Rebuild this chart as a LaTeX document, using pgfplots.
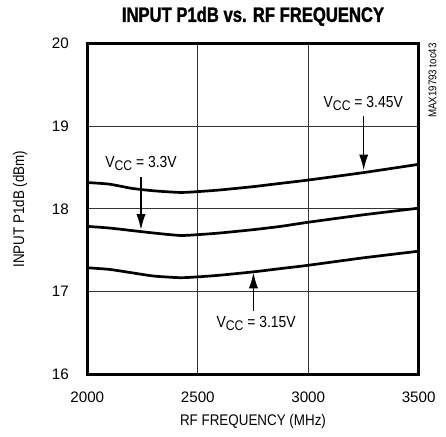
\documentclass[border=0pt]{standalone}
\usepackage{fontspec}
\setmainfont{Liberation Sans}
\newfontfamily\titlefont{Liberation Sans Bold}[FakeBold=1.6]
\usepackage{graphicx}
\usepackage{pgfplots}
\pgfplotsset{compat=1.18}
\usetikzlibrary{arrows.meta}
\newcommand{\nar}[1]{\scalebox{0.87}[1]{#1}}
\newcommand{\vcc}{V\raisebox{-0.35ex}{\fontsize{7bp}{8bp}\selectfont CC}}
\begin{document}
\begin{tikzpicture}
\begin{axis}[
  at={(0,0)}, anchor=south west,
  scale only axis, width=165.7bp, height=165.5bp,
  xmin=2000, xmax=3500, ymin=16, ymax=20,
  xtick={2000,2500,3000,3500}, ytick={16,17,18,19,20},
  grid=major, major grid style={black!80, line width=0.5bp},
  axis line style={line width=1.5bp},
  tick style={draw=none},
  /pgf/number format/assume math mode=true,
  /pgf/number format/1000 sep={},
  tick label style={font=\fontsize{7.6bp}{9bp}\selectfont},
  xticklabel style={anchor=north, inner sep=0pt, yshift=-8.5bp},
  yticklabel style={anchor=east, inner sep=0pt, xshift=-9bp},
  clip=false,
]
% V_CC = 3.45V
\addplot[black, line width=1.35bp, smooth, tension=0.4] coordinates {
 (2000,18.32) (2100,18.30) (2200,18.25) (2300,18.22) (2420,18.20) (2500,18.21)
 (2600,18.23) (2750,18.27) (2875,18.31) (3000,18.35) (3250,18.44) (3500,18.54)};
% V_CC = 3.3V
\addplot[black, line width=1.35bp, smooth, tension=0.4] coordinates {
 (2000,17.79) (2100,17.77) (2200,17.74) (2300,17.71) (2420,17.68) (2500,17.69)
 (2600,17.71) (2750,17.75) (2875,17.79) (3000,17.84) (3250,17.93) (3500,18.01)};
% V_CC = 3.15V
\addplot[black, line width=1.35bp, smooth, tension=0.4] coordinates {
 (2000,17.29) (2100,17.27) (2200,17.23) (2300,17.19) (2420,17.17) (2500,17.18)
 (2600,17.20) (2750,17.24) (2875,17.28) (3000,17.32) (3250,17.41) (3500,17.49)};

\draw[line width=0.6bp, -{Latex[length=7.8bp,width=4.6bp]}] (axis cs:3251,19.12) -- (axis cs:3251,18.47);
\draw[line width=0.6bp, -{Latex[length=7.8bp,width=4.6bp]}] (axis cs:2243,18.39) -- (axis cs:2243,17.75);
\draw[line width=0.6bp, -{Latex[length=7.8bp,width=4.6bp]}] (axis cs:2752,16.77) -- (axis cs:2752,17.23);

\node[font=\fontsize{8bp}{9bp}\selectfont, inner sep=0pt] at (axis cs:3249,19.27) {\nar{\vcc{} = 3.45V}};
\node[font=\fontsize{8bp}{9bp}\selectfont, inner sep=0pt] at (axis cs:2243,18.55) {\nar{\vcc{} = 3.3V}};
\node[font=\fontsize{8bp}{9bp}\selectfont, inner sep=0pt] at (axis cs:2764,16.62) {\nar{\vcc{} = 3.15V}};

\node[font=\fontsize{10.4bp}{12bp}\titlefont, inner sep=0pt] at (rel axis cs:0.5,1.082) {\scalebox{0.8}[1]{INPUT P1dB vs. RF FREQUENCY}};
\node[font=\fontsize{7.7bp}{9bp}\selectfont, inner sep=0pt] at (rel axis cs:0.5,-0.1435) {\nar{RF FREQUENCY (MHz)}};
\node[font=\fontsize{7.7bp}{9bp}\selectfont, inner sep=0pt, rotate=90] at (rel axis cs:-0.203,0.5) {\nar{INPUT P1dB (dBm)}};
\node[rotate=90, font=\fontsize{5.6bp}{6bp}\selectfont, inner sep=0pt] at (rel axis cs:1.042,0.888) {\nar{MAX19793 toc43}};
\end{axis}
\pgfresetboundingbox
\useasboundingbox (-43.65bp,-31.25bp) rectangle (179.35bp,187.25bp);
\end{tikzpicture}
\end{document}
